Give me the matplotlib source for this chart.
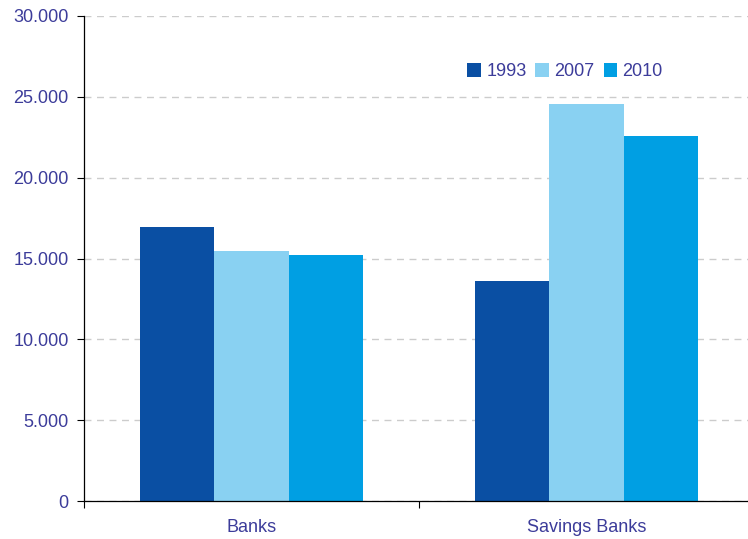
import matplotlib
matplotlib.use("Agg")
import matplotlib.pyplot as plt
import numpy as np
from matplotlib.ticker import FuncFormatter, FixedLocator

categories = ["Banks", "Savings Banks"]
series_names = ["1993", "2007", "2010"]
values_1993 = [16950, 13600]
values_2007 = [15460, 24550]
values_2010 = [15200, 22570]
yticks = [0, 5000, 10000, 15000, 20000, 25000, 30000]

colors = ["#0A4FA3", "#89D1F2", "#009FE3"]
text_color = "#3C3C9A"

plt.rcParams['font.family'] = ['Liberation Sans', 'DejaVu Sans']

fig = plt.figure(figsize=(7.48, 5.39), dpi=100)
ax = fig.add_axes([84/748, 1-501/539, 670/748, (501-16)/539])

x = np.arange(len(categories))
w = 0.222
for i, (vals, name) in enumerate(zip([values_1993, values_2007, values_2010], series_names)):
    ax.bar(x + (i-1)*w, vals, width=w, color=colors[i], label=name, zorder=3, linewidth=0)

ax.set_xlim(-0.5, 1.5)
ax.set_ylim(0, 30000)
ax.set_yticks(yticks)
ax.yaxis.set_major_formatter(FuncFormatter(lambda v, p: f"{int(v):,}".replace(",", ".")))
ax.set_xticks(x)
ax.set_xticklabels(categories)
ax.xaxis.set_minor_locator(FixedLocator([-0.5, 0.5, 1.5]))
ax.tick_params(axis='x', which='major', length=0, pad=13, labelsize=13, labelcolor=text_color)
ax.tick_params(axis='x', which='minor', length=5, width=0.8, color='black')
ax.tick_params(axis='y', length=5, width=0.8, pad=6, labelsize=13, labelcolor=text_color)

ax.grid(axis='y', color='#CCCCCC', linestyle=(0, (5, 4)), linewidth=1, zorder=0)
for s in ['top', 'right']:
    ax.spines[s].set_visible(False)
ax.spines['left'].set_linewidth(0.9)
ax.spines['bottom'].set_linewidth(0.9)
ax.spines['bottom'].set_zorder(4)

leg = ax.legend(loc='center', bbox_to_anchor=((565-84)/670, 0.885), ncol=3, frameon=False,
                handlelength=0.75, handleheight=0.75, handletextpad=0.3, columnspacing=0.5,
                fontsize=13, labelcolor=text_color)

fig.savefig("out.png", dpi=100)
